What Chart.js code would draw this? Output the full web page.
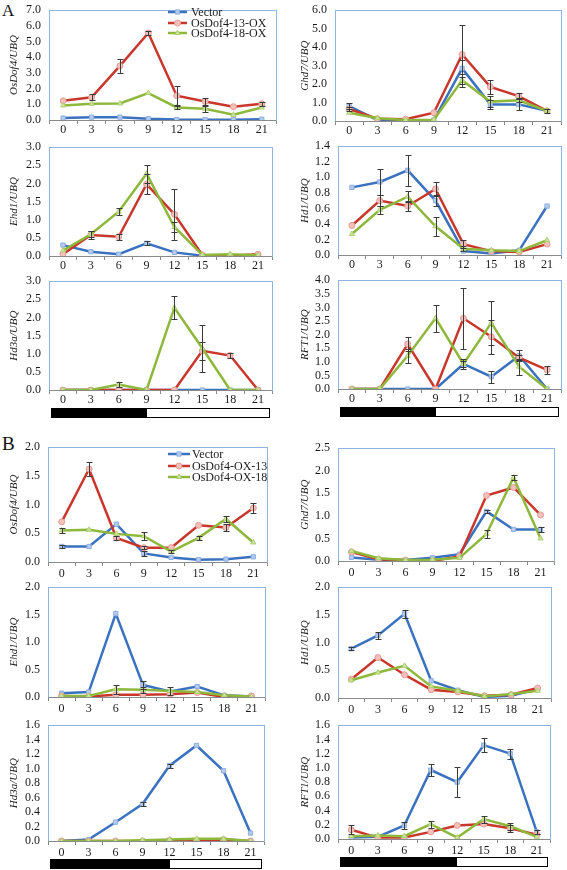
<!DOCTYPE html>
<html><head><meta charset="utf-8">
<script src="https://cdn.jsdelivr.net/npm/chart.js@4.4.1/dist/chart.umd.min.js"></script>
<style>
body{margin:0;background:#fff;width:567px;height:870px;position:relative;overflow:hidden;}
canvas{position:absolute;}
.letter{position:absolute;font-family:"Liberation Serif",serif;color:#111;line-height:1;}
</style></head><body>
<div class="letter" style="left:2px;top:2px;font-size:17px">A</div>
<div class="letter" style="left:2px;top:434px;font-size:19px">B</div>
<script>
const hours = ['0','3','6','9','12','15','18','21'];
const legendA = ['Vector','OsDof4-13-OX','OsDof4-18-OX'];
const legendB = ['Vector','OsDof4-OX-13','OsDof4-OX-18'];

// Panel A
const a1Vector = [0.12,0.18,0.18,0.08,0.03,0.02,0.02,0.05];
const a1VectorErr = [0.02,0.03,0.02,0.02,0.01,0.01,0.01,0.01];
const a1Ox13 = [1.22,1.45,3.45,5.55,1.55,1.18,0.85,1.03];
const a1Ox13Err = [0.06,0.2,0.45,0.12,0.62,0.25,0.07,0.12];
const a1Ox18 = [0.93,1.03,1.05,1.72,0.8,0.72,0.33,0.8];
const a1Ox18Err = [0.05,0.06,0.07,0.1,0.12,0.2,0.05,0.08];

const a2Vector = [0.8,0.05,0.03,0.05,2.85,0.9,0.9,0.55];
const a2VectorErr = [0.15,0.03,0.02,0.02,0.45,0.25,0.3,0.1];
const a2Ox13 = [0.65,0.12,0.1,0.45,3.6,1.85,1.35,0.55];
const a2Ox13Err = [0.1,0.03,0.02,0.03,1.6,0.38,0.15,0.05];
const a2Ox18 = [0.45,0.15,0.05,0.07,2.2,1.05,1.12,0.55];
const a2Ox18Err = [0.08,0.03,0.02,0.02,0.35,0.3,0.1,0.05];

const a3Vector = [0.3,0.12,0.05,0.35,0.1,0.01,0.01,0.02];
const a3VectorErr = [0.02,0.02,0.02,0.05,0.03,0,0,0];
const a3Ox13 = [0.05,0.58,0.53,1.98,1.15,0.03,0.01,0.05];
const a3Ox13Err = [0.01,0.1,0.08,0.28,0.7,0,0,0.01];
const a3Ox18 = [0.15,0.6,1.22,2.27,0.8,0.03,0.05,0.02];
const a3Ox18Err = [0.02,0.08,0.1,0.25,0.15,0,0.01,0];

const a4Vector = [0.87,0.94,1.09,0.7,0.05,0.02,0.06,0.63];
const a4VectorErr = [0.02,0.17,0.2,0.07,0.02,0.02,0.01,0.02];
const a4Ox13 = [0.38,0.7,0.63,0.85,0.14,0.05,0.04,0.14];
const a4Ox13Err = [0.02,0.07,0.07,0.09,0.05,0.02,0.01,0.02];
const a4Ox18 = [0.27,0.58,0.75,0.37,0.08,0.06,0.05,0.19];
const a4Ox18Err = [0.01,0.05,0.07,0.12,0.03,0.01,0.01,0.01];

const a5Vector = [0,0,0,0,0,0,0,0];
const a5VectorErr = [0,0,0,0,0,0,0,0];
const a5Ox13 = [0,0,0,0,0,1.08,0.95,0];
const a5Ox13Err = [0,0,0,0,0,0.25,0.06,0];
const a5Ox18 = [0,0,0.15,0,2.27,1.15,0,0];
const a5Ox18Err = [0,0,0.06,0,0.32,0.64,0,0];

const a6Vector = [0,0,0,0,0.92,0.45,1.22,0];
const a6VectorErr = [0,0,0,0,0.12,0.22,0.2,0];
const a6Ox13 = [0,0,1.65,0,2.6,1.92,1.15,0.7];
const a6Ox13Err = [0,0,0.25,0,1.12,0.62,0.1,0.15];
const a6Ox18 = [0,0,1.22,2.6,0.92,2.43,0.82,0];
const a6Ox18Err = [0,0,0.25,0.5,0.2,0.8,0.3,0];

// Panel B
const b1Vector = [0.27,0.27,0.66,0.15,0.08,0.04,0.05,0.09];
const b1VectorErr = [0.03,0.01,0.02,0.04,0.01,0.01,0.01,0.01];
const b1Ox13 = [0.7,1.62,0.42,0.25,0.25,0.64,0.6,0.94];
const b1Ox13Err = [0.02,0.12,0.03,0.03,0.02,0.02,0.06,0.09];
const b1Ox18 = [0.55,0.56,0.49,0.45,0.18,0.42,0.75,0.34];
const b1Ox18Err = [0.04,0.02,0.02,0.07,0.03,0.03,0.05,0.02];

const b2Vector = [0.08,0.03,0.02,0.07,0.15,1.1,0.7,0.7];
const b2VectorErr = [0.02,0.01,0.01,0.01,0.02,0.04,0.02,0.06];
const b2Ox13 = [0.2,0.04,0.02,0.0,0.1,1.45,1.63,1.02];
const b2Ox13Err = [0.02,0.01,0.01,0.01,0.02,0.02,0.03,0.03];
const b2Ox18 = [0.22,0.06,0.02,0.03,0.07,0.6,1.85,0.5];
const b2Ox18Err = [0.02,0.01,0.01,0.01,0.02,0.08,0.05,0.03];

const b3Vector = [0.07,0.09,1.52,0.22,0.1,0.19,0.03,0.01];
const b3VectorErr = [0.02,0.02,0.02,0.08,0.02,0.02,0.01,0];
const b3Ox13 = [0.02,0.01,0.04,0.04,0.05,0.08,0.0,0.02];
const b3Ox13Err = [0,0,0.01,0.01,0.01,0.01,0,0];
const b3Ox18 = [0.02,0.02,0.14,0.13,0.11,0.09,0.03,0.01];
const b3Ox18Err = [0,0,0.08,0.05,0.08,0.02,0,0];

const b4Vector = [0.89,1.13,1.52,0.31,0.14,0.02,0.04,0.16];
const b4VectorErr = [0.03,0.07,0.07,0.02,0.01,0.01,0.01,0.01];
const b4Ox13 = [0.34,0.73,0.42,0.15,0.11,0.04,0.06,0.18];
const b4Ox13Err = [0.02,0.02,0.02,0.01,0.01,0.01,0.01,0.02];
const b4Ox18 = [0.32,0.46,0.58,0.21,0.13,0.03,0.07,0.13];
const b4Ox18Err = [0.02,0.02,0.02,0.01,0.01,0.01,0.01,0.01];

const b5Vector = [0.0,0.02,0.26,0.51,1.04,1.32,0.97,0.11];
const b5VectorErr = [0.01,0.01,0.02,0.03,0.03,0.02,0.02,0.01];
const b5Ox13 = [0,0,0,0,0.01,0.01,0.02,0];
const b5Ox13Err = [0,0,0,0,0,0,0,0];
const b5Ox18 = [0,0,0,0.01,0.02,0.03,0.03,0];
const b5Ox18Err = [0,0,0,0,0,0,0,0];

const b6Vector = [0.02,0.03,0.19,0.97,0.8,1.32,1.2,0.1];
const b6VectorErr = [0.01,0.01,0.05,0.08,0.21,0.1,0.07,0.03];
const b6Ox13 = [0.13,0.02,0.02,0.1,0.19,0.21,0.15,0.06];
const b6Ox13Err = [0.06,0.01,0.01,0.01,0.02,0.02,0.05,0.01];
const b6Ox18 = [0.04,0.05,0.04,0.21,0.02,0.28,0.18,0.03];
const b6Ox18Err = [0.01,0.01,0.01,0.05,0.01,0.05,0.05,0.01];

const panels = [
 {cx:0,  L:49, T:5,   R:278, B:120, max:7,   step:1,   lp:-1, title:'OsDof4/UBQ', v:[a1Vector,a1Ox13,a1Ox18], e:[a1VectorErr,a1Ox13Err,a1Ox18Err], legend:{labels:legendA,x1:168,x2:187,tx:191,ys:[12,23,33]}},
 {cx:285,L:335,T:5,   R:563, B:121, max:6,   step:1,   lp:-1, title:'Ghd7/UBQ',   v:[a2Vector,a2Ox13,a2Ox18], e:[a2VectorErr,a2Ox13Err,a2Ox18Err]},
 {cx:0,  L:49, T:142, R:274, B:256, max:3,   step:0.5, lp:-1, title:'Ehd1/UBQ',   v:[a3Vector,a3Ox13,a3Ox18], e:[a3VectorErr,a3Ox13Err,a3Ox18Err]},
 {cx:285,L:338,T:141, R:563, B:255, max:1.4, step:0.2, lp:-1, title:'Hd1/UBQ',    v:[a4Vector,a4Ox13,a4Ox18], e:[a4VectorErr,a4Ox13Err,a4Ox18Err]},
 {cx:0,  L:49, T:276, R:274, B:390, max:3,   step:0.5, lp:-1, title:'Hd3a/UBQ',   v:[a5Vector,a5Ox13,a5Ox18], e:[a5VectorErr,a5Ox13Err,a5Ox18Err], dark:3},
 {cx:285,L:338,T:275, R:563, B:389, max:4,   step:0.5, lp:-1, title:'RFT1/UBQ',   v:[a6Vector,a6Ox13,a6Ox18], e:[a6VectorErr,a6Ox13Err,a6Ox18Err], dark:3},
 {cx:0,  L:48, T:442, R:269, B:562, max:2,   step:0.5, lp:1,  title:'OsDof4/UBQ', v:[b1Vector,b1Ox13,b1Ox18], e:[b1VectorErr,b1Ox13Err,b1Ox18Err], legend:{labels:legendB,x1:168,x2:190,tx:192,ys:[454,466,477]}},
 {cx:285,L:338,T:443, R:556, B:561, max:2.5, step:0.5, lp:1,  title:'Ghd7/UBQ',   v:[b2Vector,b2Ox13,b2Ox18], e:[b2VectorErr,b2Ox13Err,b2Ox18Err]},
 {cx:0,  L:48, T:582, R:267, B:697, max:2,   step:0.5, lp:1,  title:'Ehd1/UBQ',   v:[b3Vector,b3Ox13,b3Ox18], e:[b3VectorErr,b3Ox13Err,b3Ox18Err]},
 {cx:285,L:338,T:582, R:553, B:698, max:2,   step:0.5, lp:1,  title:'Hd1/UBQ',    v:[b4Vector,b4Ox13,b4Ox18], e:[b4VectorErr,b4Ox13Err,b4Ox18Err]},
 {cx:0,  L:48, T:720, R:266, B:841, max:1.6, step:0.2, lp:1,  title:'Hd3a/UBQ',   v:[b5Vector,b5Ox13,b5Ox18], e:[b5VectorErr,b5Ox13Err,b5Ox18Err], dark:4},
 {cx:285,L:338,T:720, R:552, B:839, max:1.6, step:0.2, lp:1,  title:'RFT1/UBQ',   v:[b6Vector,b6Ox13,b6Ox18], e:[b6VectorErr,b6Ox13Err,b6Ox18Err], dark:4}
];

const lineColors = ['#3A72C0','#C9372C','#8DB83B'];
const pointFill = ['#B4CBEC','#F4C0BC','#CFE3A0'];
const pointEdge = ['#8EAEDF','#E49A94','#ADCF72'];
const pointStyles = ['rect','circle','triangle'];
const SERIF = '"Liberation Serif", "Times New Roman", serif';
const PAD_TOP = 10, PAD_RIGHT = 3;

const frame = {
  id:'frame',
  beforeDatasetsDraw(chart){
    const a = chart.chartArea, ctx = chart.ctx;
    ctx.save();
    ctx.strokeStyle = '#8FB4E2'; ctx.lineWidth = 1;
    ctx.strokeRect(Math.round(a.left)+0.5, Math.round(a.top)+0.5, Math.round(a.right-a.left), Math.round(a.bottom-a.top));
    ctx.strokeStyle = '#8A8A8A';
    ctx.beginPath();
    ctx.moveTo(a.left, Math.round(a.bottom)+0.5); ctx.lineTo(a.right, Math.round(a.bottom)+0.5);
    ctx.stroke();
    ctx.restore();
  }
};

const errorBars = {
  id:'errorBars',
  afterDatasetsDraw(chart){
    const ctx = chart.ctx, y = chart.scales.y;
    ctx.save(); ctx.strokeStyle = '#3a3a3a'; ctx.lineWidth = 1;
    chart.data.datasets.forEach((ds,i)=>{
      const meta = chart.getDatasetMeta(i);
      (ds.errors||[]).forEach((e,j)=>{
        if(!e || e < 0.015*y.max) return;
        const px = Math.round(meta.data[j].x)+0.5;
        const v = ds.data[j];
        const t = Math.round(y.getPixelForValue(v+e))+0.5;
        const b = Math.round(y.getPixelForValue(Math.max(0,v-e)))+0.5;
        ctx.beginPath();
        ctx.moveTo(px,t); ctx.lineTo(px,b);
        ctx.moveTo(px-3,t); ctx.lineTo(px+3,t);
        ctx.moveTo(px-3,b); ctx.lineTo(px+3,b);
        ctx.stroke();
      });
    });
    ctx.restore();
  }
};

function makeExtras(p){
  return {
    id:'extras',
    afterDraw(chart){
      const ctx = chart.ctx, a = chart.chartArea;
      ctx.save();
      if(p.legend){
        const lg = p.legend, ox = p.cx, oy = p.T - PAD_TOP;
        ctx.font = '12px ' + SERIF; ctx.textBaseline = 'middle';
        lg.labels.forEach((lab,i)=>{
          const y = lg.ys[i]-oy;
          ctx.strokeStyle = lineColors[i]; ctx.lineWidth = 2.5;
          ctx.beginPath(); ctx.moveTo(lg.x1-ox,y); ctx.lineTo(lg.x2-ox,y); ctx.stroke();
          ctx.fillStyle = pointFill[i]; ctx.strokeStyle = pointEdge[i]; ctx.lineWidth = 1;
          Chart.helpers.drawPoint(ctx,{pointStyle:pointStyles[i],radius:3,rotation:0,borderWidth:1},(lg.x1+lg.x2)/2-ox,y);
          ctx.fillStyle = '#1a1a1a';
          ctx.fillText(lab, lg.tx-ox, y+0.5);
        });
      }
      if(p.dark !== undefined){
        const x = chart.scales.x;
        const l = Math.round(a.left)+2.5, r = Math.round(a.right)-2.5;
        const top = Math.round(a.bottom)+18.5, h = 9;
        const mid = Math.round(x.getPixelForValue(p.dark));
        ctx.fillStyle = '#000'; ctx.fillRect(l, top, mid-l, h);
        ctx.strokeStyle = '#000'; ctx.lineWidth = 1;
        ctx.strokeRect(l, top, r-l, h);
      }
      ctx.restore();
    }
  };
}

panels.forEach(p=>{
  const xH = p.dark !== undefined ? 32 : 22;
  const yW = p.L - p.cx;
  const cv = document.createElement('canvas');
  const w = p.R - p.cx + PAD_RIGHT, h = p.B - p.T + PAD_TOP + xH;
  cv.width = w; cv.height = h;
  cv.style.left = p.cx+'px'; cv.style.top = (p.T-PAD_TOP)+'px';
  cv.style.width = w+'px'; cv.style.height = h+'px';
  document.body.appendChild(cv);
  const datasets = p.v.map((vals,i)=>({
    data: vals, errors: p.e[i],
    borderColor: lineColors[i], borderWidth: 2.5,
    pointStyle: pointStyles[i], pointRadius: 3,
    pointBackgroundColor: pointFill[i], pointBorderColor: pointEdge[i], pointBorderWidth: 1,
    tension: 0, order: 2-i
  }));
  new Chart(cv, {
    type:'line',
    data:{labels:hours, datasets},
    options:{
      responsive:false, animation:false, devicePixelRatio:1,
      layout:{padding:{top:PAD_TOP,right:PAD_RIGHT,left:0,bottom:0}},
      plugins:{legend:{display:false}, tooltip:{enabled:false}},
      scales:{
        x:{
          type:'category', offset:true,
          grid:{display:true, offset:true, drawOnChartArea:false, drawTicks:true, tickLength:4, color:'#8A8A8A'},
          border:{display:false},
          ticks:{font:{family:SERIF,size:12}, color:'#1a1a1a', padding:p.lp, maxRotation:0, autoSkip:false},
          afterFit(s){ s.height = xH; }
        },
        y:{
          min:0, max:p.max,
          grid:{display:false, drawTicks:false},
          border:{display:false},
          ticks:{stepSize:p.step, autoSkip:false, font:{family:SERIF,size:12}, color:'#1a1a1a', padding:8,
                 callback:v=>Number(v).toFixed(1)},
          title:{display:true, text:p.title, font:{family:SERIF,size:11,style:'italic'}, color:'#222',
                 padding:{top:p.cx===0?8:14,bottom:0}},
          afterFit(s){ s.width = yW; }
        }
      }
    },
    plugins:[frame, errorBars, makeExtras(p)]
  });
});
</script>
</body></html>
